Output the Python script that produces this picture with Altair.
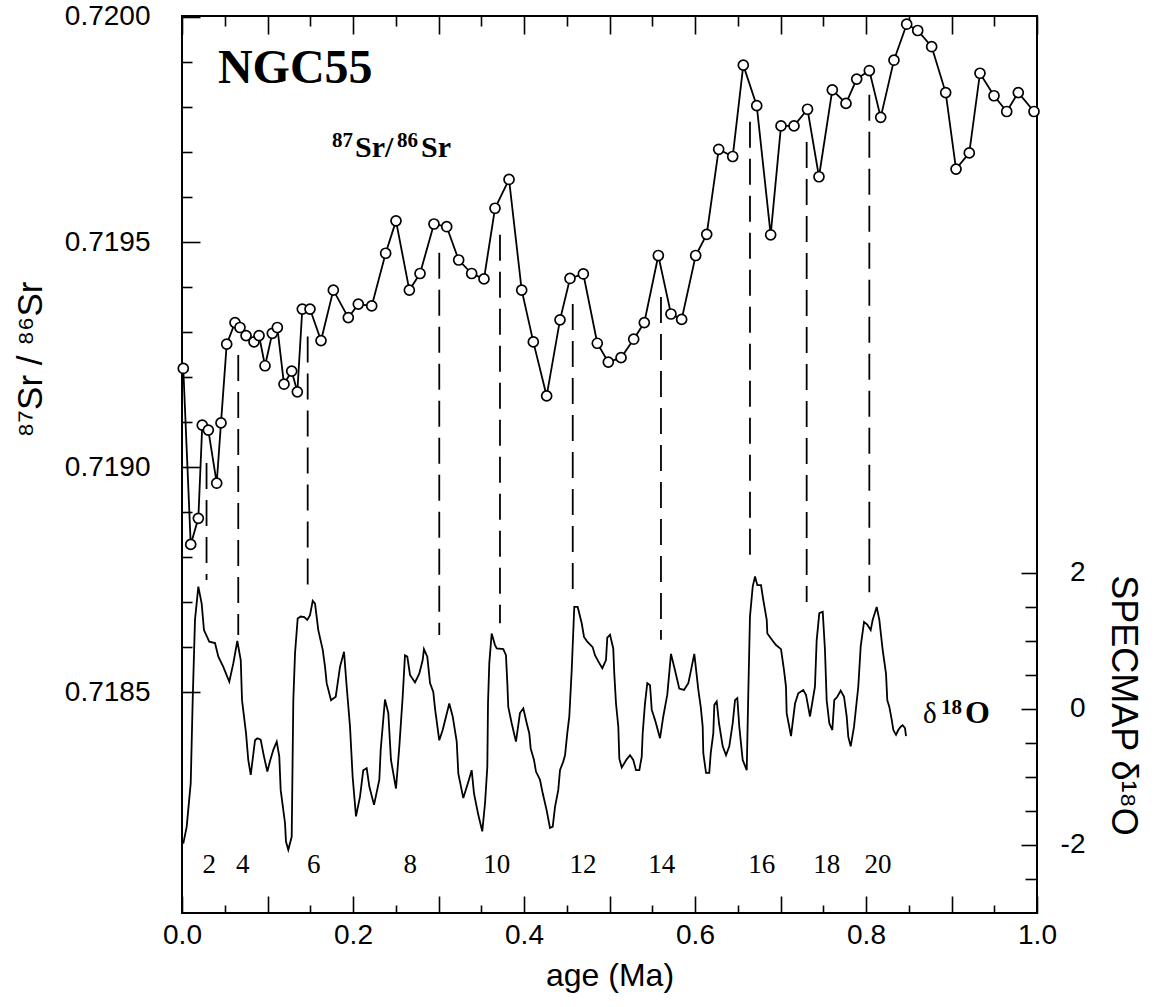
import altair as alt
import pandas as pd

# ---------------- data ----------------
sr_age = [0.0015, 0.0102, 0.0191, 0.0237, 0.0308, 0.0406, 0.0456, 0.0523, 0.0620, 0.0678,
          0.0749, 0.0842, 0.0901, 0.0971, 0.1056, 0.1115, 0.1193, 0.1283, 0.1349, 0.1407,
          0.1497, 0.1626, 0.1770, 0.1945, 0.2062, 0.2219, 0.2382, 0.2503, 0.2659, 0.2784,
          0.2947, 0.3096, 0.3236, 0.3388, 0.3532, 0.3661, 0.3825, 0.3973, 0.4109, 0.4265,
          0.4421, 0.4538, 0.4694, 0.4857, 0.4986, 0.5135, 0.5283, 0.5407, 0.5571, 0.5719,
          0.5844, 0.6008, 0.6137, 0.6277, 0.6441, 0.6565, 0.6722, 0.6885, 0.7006, 0.7158,
          0.7316, 0.7450, 0.7606, 0.7766, 0.7891, 0.8039, 0.8172, 0.8327, 0.8476, 0.8605,
          0.8768, 0.8932, 0.9053, 0.9208, 0.9333, 0.9497, 0.9646, 0.9781, 0.9965]
sr_val = [0.719219, 0.718828, 0.718886, 0.719093, 0.719082, 0.718964, 0.719098, 0.719273, 0.719321, 0.719310,
          0.719292, 0.719278, 0.719292, 0.719225, 0.719297, 0.719310, 0.719184, 0.719213, 0.719167, 0.719351,
          0.719351, 0.719281, 0.719393, 0.719332, 0.719362, 0.719358, 0.719475, 0.719547, 0.719393, 0.719430,
          0.719540, 0.719534, 0.719460, 0.719430, 0.719418, 0.719575, 0.719639, 0.719393, 0.719278, 0.719158,
          0.719327, 0.719419, 0.719429, 0.719275, 0.719233, 0.719243, 0.719284, 0.719321, 0.719470, 0.719340,
          0.719328, 0.719470, 0.719517, 0.719706, 0.719690, 0.719893, 0.719803, 0.719516, 0.719758, 0.719758,
          0.719795, 0.719645, 0.719838, 0.719808, 0.719862, 0.719881, 0.719777, 0.719904, 0.719984, 0.719970,
          0.719934, 0.719832, 0.719662, 0.719698, 0.719875, 0.719825, 0.719790, 0.719832, 0.719790]

o_age = [0.0015, 0.0055, 0.0102, 0.0125, 0.0152, 0.0191, 0.0230, 0.0257, 0.0319, 0.0386,
         0.0425, 0.0483, 0.0553, 0.0600, 0.0647, 0.0687, 0.0702, 0.0749, 0.0775, 0.0804,
         0.0854, 0.0881, 0.0920, 0.0959, 0.0998, 0.1029, 0.1068, 0.1108, 0.1138, 0.1154,
         0.1205, 0.1216, 0.1243, 0.1283, 0.1302, 0.1322, 0.1353, 0.1388, 0.1430, 0.1465,
         0.1497, 0.1529, 0.1556, 0.1594, 0.1646, 0.1673, 0.1692, 0.1743, 0.1798, 0.1848,
         0.1895, 0.1926, 0.1965, 0.1996, 0.2035, 0.2082, 0.2120, 0.2160, 0.2191, 0.2246,
         0.2308, 0.2324, 0.2374, 0.2413, 0.2444, 0.2503, 0.2542, 0.2581, 0.2608, 0.2635,
         0.2667, 0.2725, 0.2775, 0.2815, 0.2830, 0.2869, 0.2901, 0.2939, 0.2959, 0.3009,
         0.3049, 0.3126, 0.3166, 0.3213, 0.3232, 0.3290, 0.3349, 0.3388, 0.3415, 0.3466,
         0.3512, 0.3544, 0.3571, 0.3579, 0.3594, 0.3622, 0.3661, 0.3681, 0.3758, 0.3789,
         0.3805, 0.3816, 0.3856, 0.3906, 0.3953, 0.3992, 0.4032, 0.4062, 0.4078, 0.4117,
         0.4140, 0.4187, 0.4219, 0.4265, 0.4304, 0.4336, 0.4363, 0.4401, 0.4421, 0.4460,
         0.4480, 0.4506, 0.4530, 0.4558, 0.4588, 0.4628, 0.4675, 0.4702, 0.4740, 0.4803,
         0.4830, 0.4869, 0.4916, 0.4959, 0.4974, 0.5006, 0.5044, 0.5056, 0.5076, 0.5103,
         0.5115, 0.5143, 0.5201, 0.5240, 0.5278, 0.5310, 0.5349, 0.5377, 0.5388, 0.5415,
         0.5442, 0.5474, 0.5494, 0.5532, 0.5591, 0.5629, 0.5676, 0.5719, 0.5766, 0.5816,
         0.5871, 0.5922, 0.5950, 0.5992, 0.6039, 0.6067, 0.6090, 0.6097, 0.6129, 0.6167,
         0.6184, 0.6214, 0.6226, 0.6254, 0.6281, 0.6324, 0.6363, 0.6401, 0.6441, 0.6468,
         0.6495, 0.6518, 0.6558, 0.6605, 0.6623, 0.6643, 0.6675, 0.6702, 0.6729, 0.6772,
         0.6799, 0.6839, 0.6846, 0.6904, 0.6947, 0.7006, 0.7041, 0.7064, 0.7072, 0.7123,
         0.7170, 0.7208, 0.7266, 0.7298, 0.7345, 0.7383, 0.7403, 0.7423, 0.7454, 0.7494,
         0.7520, 0.7540, 0.7571, 0.7606, 0.7629, 0.7664, 0.7704, 0.7743, 0.7774, 0.7793,
         0.7821, 0.7860, 0.7910, 0.7938, 0.7977, 0.8015, 0.8055, 0.8078, 0.8125, 0.8156,
         0.8195, 0.8234, 0.8249, 0.8273, 0.8301, 0.8320, 0.8351, 0.8377, 0.8406, 0.8429,
         0.8456, 0.8468]
o_val = [-1.98, -1.73, -1.09, 0.13, 1.31, 1.80, 1.55, 1.16, 0.99, 0.97,
         0.77, 0.62, 0.40, 0.67, 1.00, 0.72, 0.13, -0.36, -0.75, -0.97,
         -0.46, -0.43, -0.45, -0.70, -0.92, -0.77, -0.60, -0.48, -0.70, -1.19,
         -1.68, -1.95, -2.07, -1.88, 0.13, 0.82, 1.33, 1.36, 1.35, 1.31,
         1.38, 1.59, 1.55, 1.16, 0.87, 0.62, 0.38, 0.13, 0.18, 0.62,
         0.84, 0.33, -0.26, -1.00, -1.58, -1.29, -0.90, -0.87, -1.14, -1.41,
         -1.04, -0.60, 0.14, -0.06, -0.75, -1.17, -0.55, 0.18, 0.79, 0.77,
         0.50, 0.39, 0.52, 0.72, 0.88, 0.77, 0.38, 0.25, 0.01, -0.46,
         -0.31, 0.08, -0.11, -0.48, -0.95, -1.31, -1.07, -0.90, -1.24, -1.56,
         -1.80, -1.39, -0.85, 0.08, 0.67, 1.11, 0.94, 0.89, 0.88, 0.79,
         0.38, 0.03, -0.21, -0.48, -0.06, 0.01, -0.21, -0.36, -0.58, -0.75,
         -0.92, -1.04, -1.24, -1.49, -1.75, -1.73, -1.44, -1.19, -0.90, -0.77,
         -0.68, -0.36, -0.11, 0.57, 1.50, 1.50, 1.26, 1.06, 0.99, 0.91,
         0.79, 0.70, 0.60, 0.72, 1.05, 1.09, 0.89, 0.52, 0.08, -0.26,
         -0.73, -0.86, -0.74, -0.68, -0.75, -0.90, -0.90, -0.70, -0.36, 0.08,
         0.38, 0.35, -0.01, -0.16, -0.43, -0.11, 0.21, 0.81, 0.57, 0.30,
         0.28, 0.38, 0.55, 0.81, 0.28, 0.03, -0.26, -0.65, -0.94, -0.94,
         -0.65, -0.36, 0.06, 0.11, -0.21, -0.55, -0.68, -0.55, -0.21, 0.13,
         0.16, -0.26, -0.75, -0.90, 0.21, 1.36, 1.80, 1.95, 1.82, 1.82,
         1.60, 1.31, 1.11, 1.01, 0.94, 0.88, 0.57, 0.33, -0.06, -0.40,
         0.08, 0.23, 0.28, 0.21, -0.11, 0.18, 0.33, 1.01, 1.41, 1.43,
         0.87, 0.13, -0.21, -0.31, 0.13, 0.18, 0.27, 0.18, -0.11, -0.41,
         -0.55, -0.26, 0.33, 0.92, 1.28, 1.24, 1.16, 1.31, 1.50, 1.31,
         0.87, 0.52, 0.13, 0.03, -0.16, -0.31, -0.38, -0.31, -0.26, -0.24,
         -0.28, -0.40]

dash_age = [0.0287, 0.0658, 0.1470, 0.3009, 0.3719, 0.4570, 0.5602, 0.6643, 0.7306, 0.8039]
dash_top = [0.719009, 0.719249, 0.719290, 0.719476, 0.719516, 0.719362, 0.719378, 0.719767, 0.719722, 0.719827]
dash_bot = [0.718749, 0.718627, 0.718731, 0.718627, 0.718653, 0.718720, 0.718616, 0.718798, 0.718700, 0.718722]

stage_age = [0.032, 0.071, 0.154, 0.267, 0.368, 0.469, 0.561, 0.678, 0.754, 0.814]
stage_lab = ["2", "4", "6", "8", "10", "12", "14", "16", "18", "20"]
stage_level = -2.41

x_ticks = [round(i * 0.05, 2) for i in range(21)]
sr_ticks = [round(0.7185 + i * 0.0001, 4) for i in range(16)]
o_ticks = [-2.5, -2.0, -1.5, -1.0, -0.5, 0.0, 0.5, 1.0, 1.5, 2.0]

SR_DOMAIN = [0.718009, 0.7200022]
O_DOMAIN = [-3.0, 10.19]

# ---------------- frames ----------------
sr_df = pd.DataFrame({"age": sr_age, "sr": sr_val})
o_df = pd.DataFrame({"age": o_age, "d": o_val})
dash_df = pd.DataFrame({"age": dash_age, "sr": dash_top, "sr2": dash_bot})
stage_df = pd.DataFrame({"age": stage_age, "d": [stage_level] * len(stage_age), "lab": stage_lab})
ngc_df = pd.DataFrame({"age": [0.042], "sr": [0.719853], "lab": ["NGC55"]})
srlab_df = pd.DataFrame({"age": [0.1754], "sr": [0.719689]})
olab_df = pd.DataFrame({"age": [0.8667], "d": [-0.206]})

SERIF = "Liberation Serif"
SANS = "Liberation Sans"

# ---------------- axes ----------------
bottom_axis = alt.Axis(
    orient="bottom", values=x_ticks,
    labelExpr="round(datum.value*20) % 4 == 0 ? format(datum.value, '.1f') : ''",
    tickSize={"expr": "round(datum.value*20) % 2 == 0 ? -17 : -8"},
    labelPadding=25, title="age (Ma)", titleY=62, titleBaseline="middle", titleFontSize=32,
)
top_axis = alt.Axis(
    orient="top", values=x_ticks, labels=False, title=None,
    tickSize={"expr": "round(datum.value*20) % 2 == 0 ? -18 : -10"},
)
left_axis = alt.Axis(
    orient="left", values=sr_ticks,
    labelExpr="round(datum.value*10000) % 5 == 0 ? format(datum.value, '.4f') : ''",
    tickSize={"expr": "round(datum.value*10000) % 5 == 0 ? -18 : -10"},
    labelPadding=50, title="⁸⁷Sr / ⁸⁶Sr", titleAngle=270, titleX=-152, titleY=343,
    titleAlign="center", titleBaseline="middle", titleFontSize=35,
)
right_axis = alt.Axis(
    orient="right", values=o_ticks,
    labelExpr="datum.value % 2 == 0 ? ('' + datum.value) : ''",
    tickSize={"expr": "datum.value % 2 == 0 ? -16 : -12"},
    labelPadding=64, labelAlign="right", title="SPECMAP δ¹⁸O", titleAngle=90,
    titleX=85, titleY=689, titleAlign="center", titleBaseline="middle", titleFontSize=36,
)

xA = alt.X("age:Q", scale=alt.Scale(domain=[0, 1], nice=False, zero=False), axis=bottom_axis)
yA = alt.Y("sr:Q", scale=alt.Scale(domain=SR_DOMAIN, nice=False, zero=False), axis=left_axis)
xB = alt.X("age:Q", scale=alt.Scale(domain=[0, 1], nice=False, zero=False), axis=top_axis)
yB = alt.Y("d:Q", scale=alt.Scale(domain=O_DOMAIN, nice=False, zero=False), axis=right_axis)

# ---------------- Sr layer ----------------
sr_line = alt.Chart(sr_df).mark_line(color="black", strokeWidth=1.8).encode(x=xA, y=yA)
sr_pts = alt.Chart(sr_df).mark_point(shape="circle", filled=True, fill="white", stroke="black",
                                     strokeWidth=1.7, size=100, opacity=1).encode(x=xA, y=yA)
dashes = alt.Chart(dash_df).mark_rule(color="black", strokeWidth=1.8, strokeDash=[26, 11]).encode(
    x=xA, y=yA, y2="sr2:Q")
ngc = alt.Chart(ngc_df).mark_text(font=SERIF, fontSize=48, fontWeight="bold", align="left",
                                  baseline="alphabetic", color="black").encode(x=xA, y=yA, text="lab:N")
sup_kw = dict(font=SERIF, fontWeight="bold", align="left", baseline="alphabetic", color="black")
sl1 = alt.Chart(srlab_df).mark_text(text="87", fontSize=21, dx=0, dy=-10, **sup_kw).encode(x=xA, y=yA)
sl2 = alt.Chart(srlab_df).mark_text(text="Sr/", fontSize=30, dx=23, **sup_kw).encode(x=xA, y=yA)
sl3 = alt.Chart(srlab_df).mark_text(text="86", fontSize=21, dx=65, dy=-10, **sup_kw).encode(x=xA, y=yA)
sl4 = alt.Chart(srlab_df).mark_text(text="Sr", fontSize=30, dx=89, **sup_kw).encode(x=xA, y=yA)

layerA = alt.layer(sr_line, dashes, sr_pts, ngc, sl1, sl2, sl3, sl4)

# ---------------- d18O layer ----------------
o_line = alt.Chart(o_df).mark_line(color="black", strokeWidth=1.8).encode(x=xB, y=yB)
stages = alt.Chart(stage_df).mark_text(font=SERIF, fontSize=27, align="center", baseline="alphabetic",
                                       color="black").encode(x=xB, y=yB, text="lab:N")
ol1 = alt.Chart(olab_df).mark_text(text="δ", font=SERIF, fontSize=29, align="left",
                                   baseline="alphabetic", color="black").encode(x=xB, y=yB)
ol2 = alt.Chart(olab_df).mark_text(text="18", font=SERIF, fontSize=21, fontWeight="bold", dx=18, dy=-9,
                                   align="left", baseline="alphabetic", color="black").encode(x=xB, y=yB)
ol3 = alt.Chart(olab_df).mark_text(text="O", font=SERIF, fontSize=32, fontWeight="bold", dx=42,
                                   align="left", baseline="alphabetic", color="black").encode(x=xB, y=yB)
layerB = alt.layer(o_line, stages, ol1, ol2, ol3)

chart = alt.layer(layerA, layerB).resolve_scale(x="independent", y="independent").properties(
    width=855, height=897,
    padding={"left": 182, "top": 16, "right": 119, "bottom": 94},
    autosize=alt.AutoSizeParams(type="none"),
    background="white",
).configure_view(stroke="black", strokeWidth=2).configure_axis(
    labelFont=SANS, labelFontSize=28, labelColor="black",
    titleFont=SANS, titleFontSize=31, titleFontWeight="normal", titleColor="black",
    tickColor="black", tickWidth=1.6, domain=False, grid=False,
    labelFlush=False, labelOverlap=False, labelBound=False,
)

chart.save("out.html", embed_options={"renderer": "svg", "actions": False})
